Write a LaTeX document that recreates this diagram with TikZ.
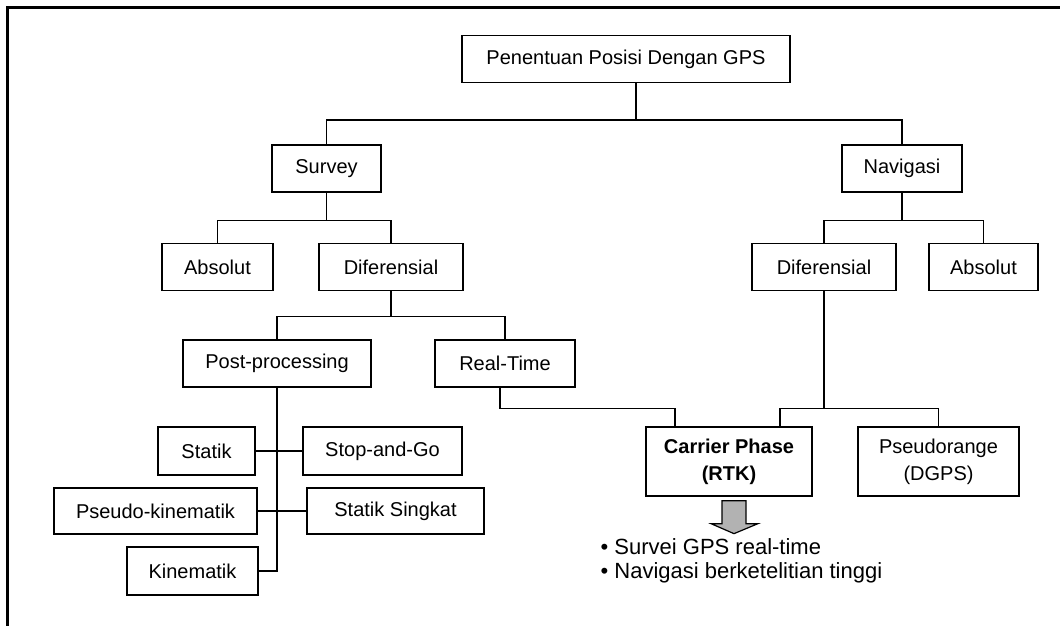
\documentclass[tikz,border=0pt]{standalone}
\usepackage{fontspec}
\setmainfont{Liberation Sans}
\usetikzlibrary{positioning, calc}

\begin{document}
\begin{tikzpicture}[
    x=0.5pt, y=-0.5pt,
    line width=0.65pt,
    font=\fontsize{10}{13.5}\selectfont,
    box/.style={rectangle, draw, inner sep=0pt, align=center, minimum height=23.5pt},
    tallbox/.style={box, minimum height=34.5pt},
    frame/.style={line width=1.5pt},
    notes/.style={align=left, inner sep=0pt, anchor=west, font=\fontsize{11}{12}\selectfont}
]
\useasboundingbox (0,0) rectangle (1060,626);

% Frame
\draw[frame] (7.5,626) -- (7.5,7.5) -- (1060,7.5);

% Nodes
\node[box, minimum width=164pt] (root) at (626, 59) {Penentuan Posisi Dengan GPS};

\node[box, minimum width=54.5pt] (survey) at (326.5, 168.5) {Survey};
\node[box, minimum width=60pt] (navigasi) at (902, 168.5) {Navigasi};

\node[box, minimum width=55.5pt] (absolutL) at (217.5, 267) {Absolut};
\node[box, minimum width=72pt] (diferL) at (391, 267) {Diferensial};
\node[box, minimum width=72pt] (diferR) at (824, 267) {Diferensial};
\node[box, minimum width=54.5pt] (absolutR) at (983.5, 267) {Absolut};

\node[box, minimum width=94pt] (post) at (277, 363.5) {Post-processing};
\node[box, minimum width=70pt] (realtime) at (505, 363.5) {Real-Time};

\node[box, minimum width=48.5pt, minimum height=24pt] (statik) at (206.5, 451) {Statik};
\node[box, minimum width=79.5pt, minimum height=24pt] (stopgo) at (382.5, 451) {Stop-and-Go};
\node[box, minimum width=101.5pt, minimum height=23pt] (pseudokin) at (155.5, 511) {Pseudo-kinematik};
\node[box, minimum width=88.5pt, minimum height=23pt] (singkat) at (395.5, 511) {Statik Singkat};
\node[box, minimum width=65.5pt, minimum height=24pt] (kinematik) at (192.5, 571) {Kinematik};

\node[tallbox, minimum width=83pt, font=\fontsize{10}{13.5}\selectfont\bfseries] (carrier) at (729, 461.5) {Carrier Phase\\(RTK)};
\node[tallbox, minimum width=80.5pt] (pseudorange) at (938.5, 461.5) {Pseudorange\\(DGPS)};

\node[notes] (uses) at (600, 561) {\textbullet\ Survei GPS real-time\\\textbullet\ Navigasi berketelitian tinggi};

% Tree lines
\draw ([xshift=5pt]root.south) -- ++(0,37) coordinate (b1);
\draw (survey.north) |- (b1) -| (navigasi.north);

\draw (survey.south) -- ++(0,28) coordinate (b2);
\draw (absolutL.north) |- (b2) -| (diferL.north);
\draw (navigasi.south) -- ++(0,28) coordinate (b3);
\draw (diferR.north) |- (b3) -| (absolutR.north);

\draw (diferL.south) -- ++(0,25) coordinate (b4);
\draw (post.north) |- (b4) -| (realtime.north);

% Post-processing branches
\draw (post.south) |- (kinematik.east);
\draw (statik.east) -- (stopgo.west);
\draw (pseudokin.east) -- (singkat.west);

% Carrier phase / pseudorange branches
\coordinate (cpL) at ([xshift=-27pt]carrier.north);
\coordinate (cpR) at ([xshift=25.5pt]carrier.north);
\draw (diferR.south) -- ++(0,117) coordinate (b6);
\draw (cpR) |- (b6) -| (pseudorange.north);
\draw ([xshift=-2.5pt]realtime.south) |- (cpL |- b6) -- (cpL);

% Result arrow
\draw[fill=gray!60, line width=0.6pt] ($(carrier.south)+(-7,4)$) -- ++(24,0) -- ++(0,23) -- ++(12,0)
    -- ++(-24,10) -- ++(-23,-10) -- ++(11,0) -- cycle;

\end{tikzpicture}
\end{document}
